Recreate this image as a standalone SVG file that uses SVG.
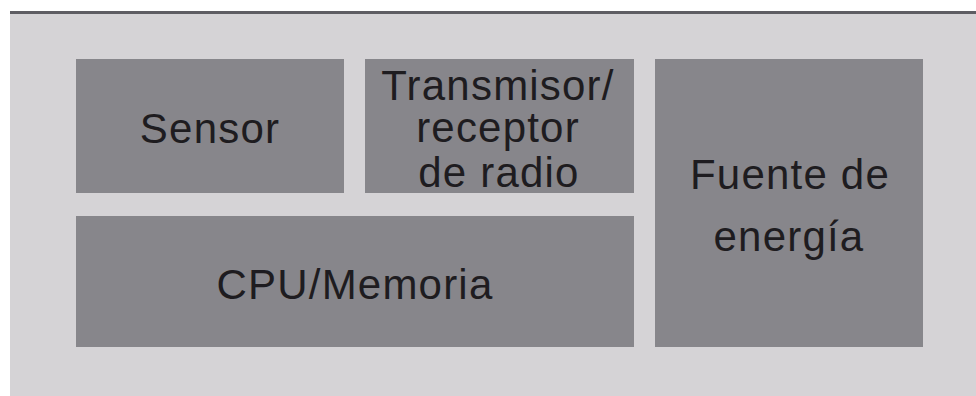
<svg xmlns="http://www.w3.org/2000/svg" width="976" height="396" viewBox="0 0 976 396">
  <style>
    .box { fill: #87868b; }
    .lbl { font-family: "Liberation Sans", Arial, sans-serif; font-size: 42px; fill: #1e1c20; text-anchor: middle; letter-spacing: 1.2px; }
  </style>
  <rect x="0" y="0" width="976" height="396" fill="#ffffff"/>
  <rect x="10" y="11" width="966" height="385" fill="#d5d3d6"/>
  <rect x="10" y="11" width="966" height="3" fill="#5e5d63"/>
  <g id="sensor">
    <rect class="box" x="76" y="59" width="268" height="134"/>
    <text class="lbl" x="210" y="143">Sensor</text>
  </g>
  <g id="transmisor">
    <rect class="box" x="365" y="59" width="269" height="134"/>
    <text class="lbl" x="498" y="100">Transmisor/</text>
    <text class="lbl" x="498" y="142">receptor</text>
    <text class="lbl" x="499" y="187">de radio</text>
  </g>
  <g id="cpu">
    <rect class="box" x="76" y="216" width="558" height="131"/>
    <text class="lbl" x="355" y="299">CPU/Memoria</text>
  </g>
  <g id="fuente">
    <rect class="box" x="655" y="59" width="268" height="288"/>
    <text class="lbl" x="790" y="189">Fuente de</text>
    <text class="lbl" x="789" y="251">energía</text>
  </g>
  <g id="connectors"></g>
</svg>
